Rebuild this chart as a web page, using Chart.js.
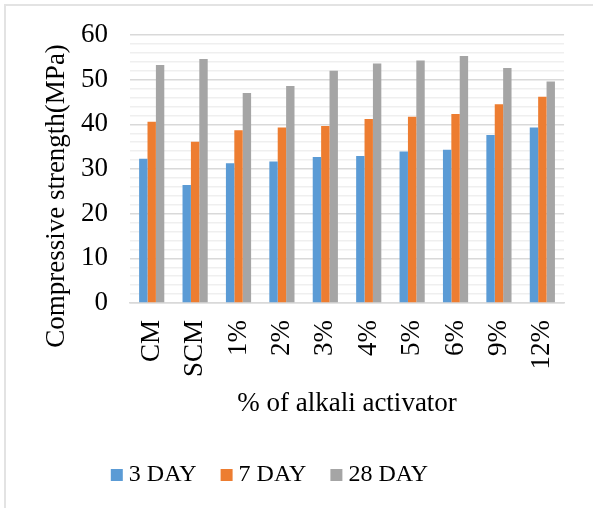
<!DOCTYPE html>
<html>
<head>
<meta charset="utf-8">
<script src="https://cdn.jsdelivr.net/npm/chart.js@4.4.1/dist/chart.umd.min.js"></script>
<style>
  html, body { margin: 0; padding: 0; background: #fff; overflow: hidden; }
  #wrap {
    position: absolute; left: 4px; top: 4px; width: 589px; height: 504px;
    border-left: 2px solid #e3e3e3; border-top: 2px solid #e3e3e3; box-sizing: border-box;
  }
  canvas { display: block; }
</style>
</head>
<body>
<div id="wrap"><canvas id="strength-chart"></canvas></div>
<script>
// Compressive strength by activator dosage
const mixLabels = ["CM", "SCM", "1%", "2%", "3%", "4%", "5%", "6%", "9%", "12%"];
const day3 = [32.3, 26.4, 31.3, 31.7, 32.7, 32.9, 33.9, 34.3, 37.6, 39.3];
const day7 = [40.6, 36.1, 38.7, 39.3, 39.6, 41.2, 41.7, 42.3, 44.5, 46.2];
const day28 = [53.3, 54.6, 47.0, 48.6, 52.0, 53.6, 54.3, 55.3, 52.6, 49.6];

const serif = "'Liberation Serif', 'Times New Roman', serif";

const makeSet = (label, data, color) => ({
  label: label,
  data: data,
  backgroundColor: color,
  barPercentage: 1,
  categoryPercentage: 0.58
});

// nudge the legend row to the left of the canvas centre
const legendShift = {
  id: "legendShift",
  afterLayout(chart) {
    const dx = -30;
    chart.legend.left += dx;
    chart.legend.right += dx;
  }
};

new Chart(document.getElementById("strength-chart"), {
  type: "bar",
  data: {
    labels: mixLabels,
    datasets: [
      makeSet("3 DAY", day3, "#5b9bd5"),
      makeSet("7 DAY", day7, "#ed7d31"),
      makeSet("28 DAY", day28, "#a5a5a5")
    ]
  },
  plugins: [legendShift],
  options: {
    responsive: true,
    maintainAspectRatio: false,
    animation: false,
    layout: { padding: { left: 31, right: 25, top: 29, bottom: 11 } },
    plugins: {
      legend: {
        position: "bottom",
        labels: {
          color: "#000",
          font: { family: serif, size: 24 },
          // square markers sit close to their text
          usePointStyle: true,
          pointStyle: "rect",
          boxWidth: 0.01,
          boxHeight: 12,
          padding: 30
        }
      },
      tooltip: { enabled: false }
    },
    scales: {
      x: {
        afterFit: (scale) => { scale.height = 130; },
        grid: { display: false, drawTicks: false },
        border: { color: "#d9d9d9", width: 1.5 },
        ticks: {
          color: "#000",
          font: { family: serif, size: 27 },
          minRotation: 90,
          maxRotation: 90,
          padding: 17
        },
        title: {
          display: true,
          text: "% of alkali activator",
          color: "#000",
          font: { family: serif, size: 27 },
          padding: { top: 4, bottom: 13 }
        }
      },
      y: {
        min: 0,
        max: 60,
        afterFit: (scale) => {
          scale.width = 93;
          scale.paddingTop = 0;
          scale.paddingBottom = 0;
        },
        border: { display: false },
        grid: {
          drawTicks: false,
          color: (ctx) => (ctx.tick && ctx.tick.value % 10 === 0 ? "#d9d9d9" : "#efefef"),
          lineWidth: 1.5
        },
        ticks: {
          stepSize: 2,
          autoSkip: false,
          color: "#000",
          font: { family: serif, size: 27 },
          padding: 22,
          callback: (v) => (v % 10 === 0 ? v : "")
        },
        title: {
          display: true,
          // trailing spaces push the rotated title down the axis
          text: "Compressive strength(MPa)        ",
          color: "#000",
          font: { family: serif, size: 27 },
          padding: { top: 4, bottom: 8 }
        }
      }
    }
  }
});
</script>
</body>
</html>
